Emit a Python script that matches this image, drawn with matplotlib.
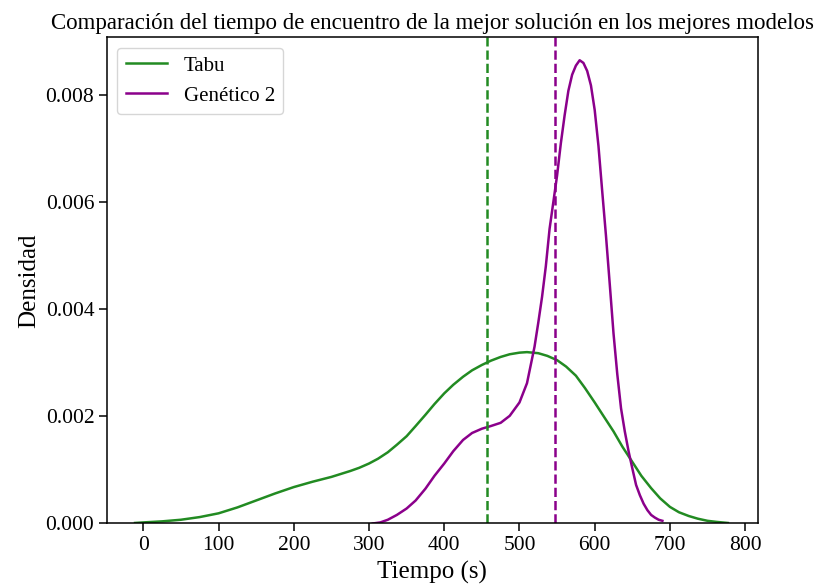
import matplotlib
matplotlib.use('Agg')
import matplotlib.pyplot as plt

plt.rcParams['font.family'] = ['Liberation Serif', 'DejaVu Serif']

# KDE curves (time in s, density)
tabu_x = [-11, 0, 25, 50, 75, 100, 125, 150, 175, 200, 225, 250, 275, 287, 300, 312,
          325, 337, 350, 362, 375, 387, 400, 412, 425, 437, 450, 462, 475, 487, 500,
          510, 525, 537, 550, 562, 575, 587, 600, 612, 625, 637, 650, 662, 675, 687,
          700, 712, 725, 737, 750, 762, 777]
tabu_y = [0.00001, 0.00002, 0.00004, 0.00007, 0.00012, 0.00019, 0.00030, 0.00043,
          0.00056, 0.00068, 0.00078, 0.00087, 0.00098, 0.00104, 0.00112, 0.00121,
          0.00133, 0.00147, 0.00163, 0.00182, 0.00203, 0.00223, 0.00243, 0.00259,
          0.00274, 0.00286, 0.00296, 0.00304, 0.00311, 0.00316, 0.00319, 0.00320,
          0.00318, 0.00313, 0.00305, 0.00293, 0.00276, 0.00253, 0.00226, 0.00200,
          0.00172, 0.00143, 0.00115, 0.00089, 0.00066, 0.00047, 0.00031, 0.00021,
          0.00014, 0.00009, 0.00005, 0.00003, 0.00001]

gen_x = [305, 315, 325, 337, 350, 362, 375, 387, 400, 412, 425, 437, 450, 462, 475,
         487, 500, 510, 520, 525, 530, 535, 540, 545, 550, 555, 560, 565, 570, 575,
         580, 585, 590, 595, 600, 605, 610, 615, 620, 625, 630, 635, 640, 645, 650,
         655, 660, 665, 670, 675, 680, 685, 690]
gen_y = [0.00000, 0.00002, 0.00007, 0.00016, 0.00028, 0.00043, 0.00065, 0.00089,
         0.00112, 0.00135, 0.00156, 0.00169, 0.00177, 0.00182, 0.00188, 0.00201,
         0.00226, 0.00262, 0.00330, 0.00375, 0.00423, 0.00480, 0.00550, 0.00600,
         0.00650, 0.00710, 0.00762, 0.00808, 0.00838, 0.00855, 0.00865, 0.00860,
         0.00845, 0.00818, 0.00772, 0.00705, 0.00620, 0.00537, 0.00447, 0.00355,
         0.00279, 0.00215, 0.00172, 0.00135, 0.00103, 0.00072, 0.00053, 0.00037,
         0.00025, 0.00016, 0.00011, 0.00007, 0.00005]

tabu_mark = 457
gen_mark = 547

fig = plt.figure(figsize=(8.15, 5.88), dpi=100)
ax = fig.add_axes([0.131, 0.1097, 0.799, 0.827])

ax.plot(tabu_x, tabu_y, color='forestgreen', lw=1.8, label='Tabu')
ax.plot(gen_x, gen_y, color='darkmagenta', lw=1.8, label='Genético 2')
ax.axvline(tabu_mark, color='forestgreen', ls='--', lw=1.8)
ax.axvline(gen_mark, color='darkmagenta', ls='--', lw=1.8)

ax.set_xlim(-48.6, 817)
ax.set_ylim(0, 0.00908)
ax.set_xticks(range(0, 801, 100))
ax.set_yticks([0, 0.002, 0.004, 0.006, 0.008])
ax.yaxis.set_major_formatter(matplotlib.ticker.FormatStrFormatter('%.3f'))
ax.tick_params(labelsize=15.5, length=5.5, width=1.1)
for s in ax.spines.values():
    s.set_linewidth(1.1)

ax.set_title('Comparación del tiempo de encuentro de la mejor solución en los mejores modelos',
             fontsize=16.5)
ax.set_xlabel('Tiempo (s)', fontsize=18)
ax.set_ylabel('Densidad', fontsize=18)
ax.legend(loc='upper left', fontsize=15)

fig.savefig('out.png', dpi=100)
